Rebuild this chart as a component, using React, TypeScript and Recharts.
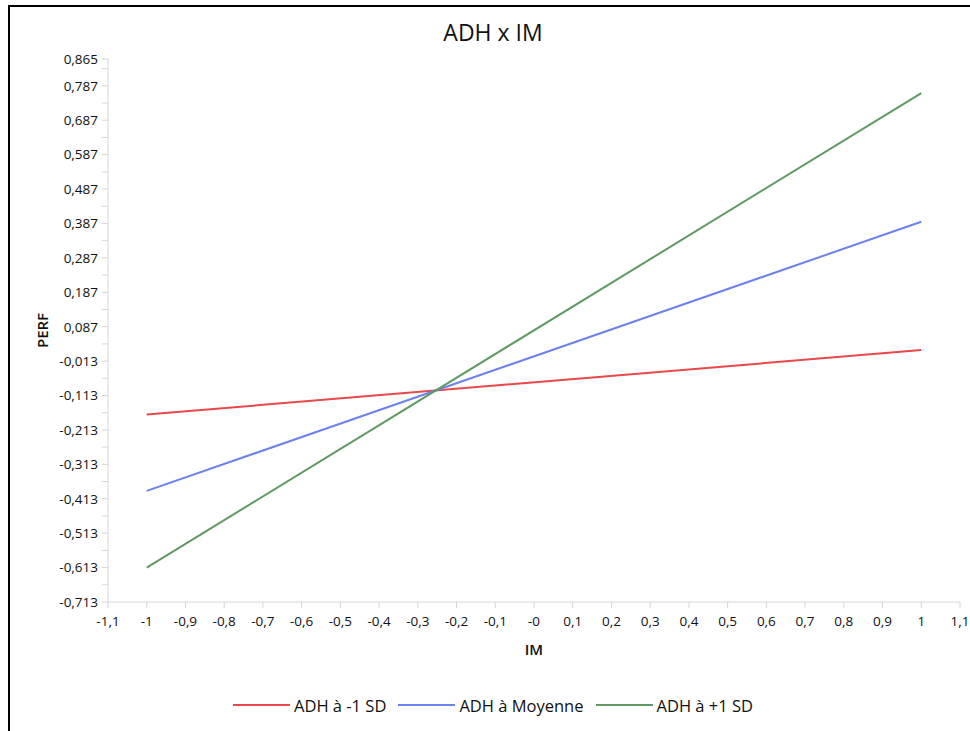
import React from 'react';
import { LineChart, Line, XAxis, YAxis, Legend, Label } from 'recharts';

const xValues = [-1, 1];
const adhLow = [-0.168, 0.019];
const adhMean = [-0.39, 0.392];
const adhHigh = [-0.613, 0.766];

const seriesNames = ['ADH à -1 SD', 'ADH à Moyenne', 'ADH à +1 SD'];
const seriesColors = ['#e8484c', '#6c82ee', '#5f9a62'];

const xTicks = [-1.1, -1, -0.9, -0.8, -0.7, -0.6, -0.5, -0.4, -0.3, -0.2, -0.1, 0, 0.1, 0.2, 0.3, 0.4, 0.5, 0.6, 0.7, 0.8, 0.9, 1, 1.1];
const xTickLabels = ['-1,1', '-1', '-0,9', '-0,8', '-0,7', '-0,6', '-0,5', '-0,4', '-0,3', '-0,2', '-0,1', '-0', '0,1', '0,2', '0,3', '0,4', '0,5', '0,6', '0,7', '0,8', '0,9', '1', '1,1'];

const yMajorTicks = [-0.713, -0.613, -0.513, -0.413, -0.313, -0.213, -0.113, -0.013, 0.087, 0.187, 0.287, 0.387, 0.487, 0.587, 0.687, 0.787, 0.865];
const yTickLabels = ['-0,713', '-0,613', '-0,513', '-0,413', '-0,313', '-0,213', '-0,113', '-0,013', '0,087', '0,187', '0,287', '0,387', '0,487', '0,587', '0,687', '0,787', '0,865'];
const yMinorTicks = [-0.663, -0.563, -0.463, -0.363, -0.263, -0.163, -0.063, 0.037, 0.137, 0.237, 0.337, 0.437, 0.537, 0.637, 0.737, 0.837];

const data = xValues.map((x, i) => ({ im: x, low: adhLow[i], mean: adhMean[i], high: adhHigh[i] }));
const yAllTicks = [...yMajorTicks, ...yMinorTicks].sort((a, b) => a - b);

const FONT = '"Open Sans", "Noto Sans", sans-serif';
const AXIS_COLOR = '#d6d6d6';
const TEXT_COLOR = '#111111';

const xFmt = (v: number) => {
  const i = xTicks.findIndex((t) => Math.abs(t - v) < 1e-6);
  return i >= 0 ? xTickLabels[i] : '';
};
const yFmt = (v: number) => {
  const i = yMajorTicks.findIndex((t) => Math.abs(t - v) < 1e-6);
  return i >= 0 ? yTickLabels[i] : '';
};

const renderLegend = (props: any) => {
  const payload = [...(props.payload || [])].sort(
    (a: any, b: any) => seriesNames.indexOf(a.value) - seriesNames.indexOf(b.value)
  );
  return (
    <div style={{ display: 'flex', justifyContent: 'center', alignItems: 'center', height: 24, paddingLeft: 26, fontFamily: FONT, fontSize: 16.5, color: TEXT_COLOR }}>
      {payload.map((p: any, i: number) => (
        <span key={i} style={{ display: 'flex', alignItems: 'center', marginRight: i < payload.length - 1 ? 12 : 0 }}>
          <span style={{ display: 'inline-block', width: 57, height: 2, background: p.color, marginRight: 4 }} />
          <span>{p.value}</span>
        </span>
      ))}
    </div>
  );
};

export default function App() {
  return (
    <div style={{ position: 'fixed', left: 0, top: 0, width: 970, height: 731, background: '#fff', overflow: 'hidden' }}>
      <div style={{ position: 'absolute', left: 8, top: 5, right: -20, bottom: -20, borderTop: '2px solid #000', borderLeft: '2px solid #000' }} />
      <div style={{ position: 'absolute', left: 293, width: 400, top: 21, textAlign: 'center', fontFamily: FONT, fontSize: 23, lineHeight: '22px', color: TEXT_COLOR }}>
        ADH x IM
      </div>
      <div style={{ position: 'absolute', left: 0, top: 0 }}>
        <LineChart width={970} height={731} data={data} margin={{ top: 59, right: 10, left: 0, bottom: 14 }}>
          <XAxis
            dataKey="im"
            type="number"
            domain={[-1.1, 1.1]}
            ticks={xTicks}
            interval={0}
            tickFormatter={xFmt}
            height={91}
            stroke={AXIS_COLOR}
            tickLine={{ stroke: AXIS_COLOR }}
            tickSize={6}
            tickMargin={8}
            tick={{ fill: TEXT_COLOR, fontSize: 13.5, fontFamily: FONT }}
            allowDataOverflow
          >
            <Label value="IM" position="insideTop" offset={42} style={{ fill: TEXT_COLOR, fontSize: 15, fontWeight: 600, fontFamily: FONT }} />
          </XAxis>
          <YAxis
            type="number"
            domain={[-0.713, 0.865]}
            ticks={yAllTicks}
            interval={0}
            tickFormatter={yFmt}
            width={108}
            stroke={AXIS_COLOR}
            tickLine={{ stroke: AXIS_COLOR }}
            tickSize={6}
            tickMargin={4}
            tick={{ fill: TEXT_COLOR, fontSize: 13.5, fontFamily: FONT }}
            allowDataOverflow
          >
            <Label value="PERF" angle={-90} position="insideLeft" offset={43} style={{ textAnchor: 'middle', fill: TEXT_COLOR, fontSize: 15, fontWeight: 600, fontFamily: FONT }} />
          </YAxis>
          <Legend verticalAlign="bottom" content={renderLegend} />
          <Line type="linear" dataKey="low" name={seriesNames[0]} stroke={seriesColors[0]} strokeWidth={2} dot={false} activeDot={false} isAnimationActive={false} />
          <Line type="linear" dataKey="mean" name={seriesNames[1]} stroke={seriesColors[1]} strokeWidth={2} dot={false} activeDot={false} isAnimationActive={false} />
          <Line type="linear" dataKey="high" name={seriesNames[2]} stroke={seriesColors[2]} strokeWidth={2} dot={false} activeDot={false} isAnimationActive={false} />
        </LineChart>
      </div>
    </div>
  );
}
